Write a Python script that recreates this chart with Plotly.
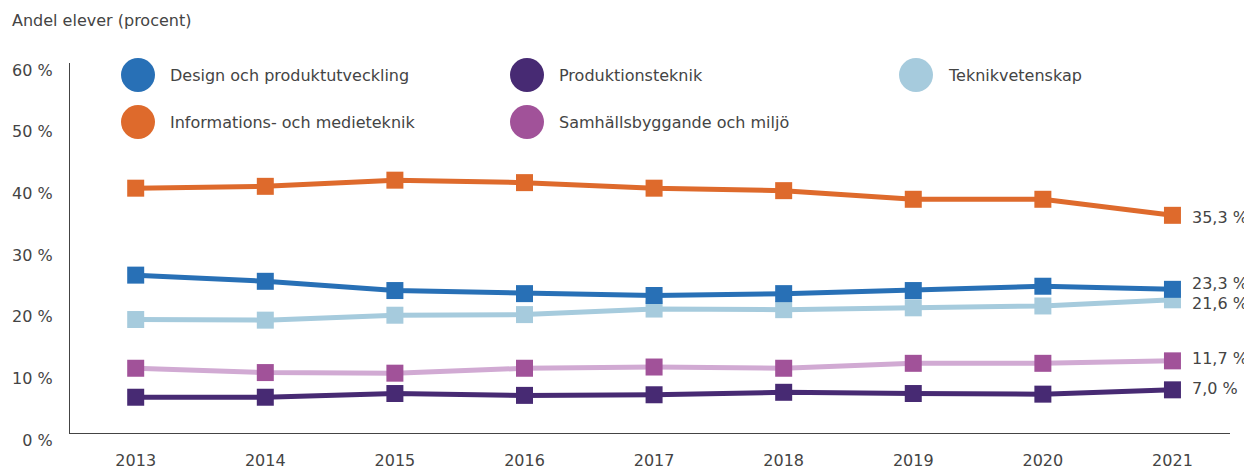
import plotly.graph_objects as go

years = [2013, 2014, 2015, 2016, 2017, 2018, 2019, 2020, 2021]

design = [25.6, 24.6, 23.1, 22.6, 22.3, 22.6, 23.1, 23.8, 23.3]
info = [39.7, 40.0, 41.0, 40.6, 39.7, 39.3, 37.9, 37.9, 35.3]
produktion = [5.8, 5.8, 6.4, 6.1, 6.2, 6.6, 6.4, 6.3, 7.0]
teknikvet = [18.4, 18.3, 19.1, 19.2, 20.1, 20.0, 20.3, 20.6, 21.6]
samhalle = [10.5, 9.8, 9.7, 10.5, 10.7, 10.5, 11.3, 11.3, 11.7]

y_ticks = [0, 10, 20, 30, 40, 50, 60]
y_ticktext = [f"{v} %" for v in y_ticks]

FONT = "'DejaVu Sans', 'Open Sans', sans-serif"
TXT = "#444444"

# page has an 8px body margin: work in screen pixels, convert to figure pixels
OFF = 8
W, H = 1252 - OFF, 469 - OFF
L, R, T, B = 70 - OFF, 1230 - OFF, 63 - OFF, 433 - OFF


def px_x(sx):
    return (sx - OFF - L) / (R - L)


def px_y(sy):
    return (B - (sy - OFF)) / (B - T)


# series: name, values, line colour, marker colour, label yshift
series = [
    ("Teknikvetenskap", teknikvet, "#a6cbdd", "#a6cbdd", -4),
    ("Design och produktutveckling", design, "#2870b6", "#2870b6", 6),
    ("Informations- och medieteknik", info, "#de6a2c", "#de6a2c", -2),
    ("Samhällsbyggande och miljö", samhalle, "#d1aad3", "#a15299", 2),
    ("Produktionsteknik", produktion, "#472a73", "#472a73", 1),
]

fig = go.Figure()
annotations = []
for name, vals, lc, mc, ys in series:
    fig.add_trace(go.Scatter(
        x=years, y=vals, mode="lines+markers", name=name,
        line=dict(color=lc, width=5),
        marker=dict(symbol="square", size=17, color=mc),
        showlegend=False, hoverinfo="x+y+name",
    ))
    v = vals[-1]
    annotations.append(dict(
        x=years[-1], y=v, xref="x", yref="y",
        text=f"{v:.1f}".replace(".", ",") + " %",
        showarrow=False, xanchor="left", yanchor="middle",
        xshift=18, yshift=ys,
        font=dict(family=FONT, size=16, color=TXT),
    ))

# legend (manual, large circles), positions in screen pixels
legend_items = [
    ("Design och produktutveckling", "#2870b6", 138, 75),
    ("Informations- och medieteknik", "#de6a2c", 138, 122),
    ("Produktionsteknik", "#472a73", 527, 75),
    ("Samhällsbyggande och miljö", "#a15299", 527, 122),
    ("Teknikvetenskap", "#a6cbdd", 916, 75),
]
shapes = []
for label, col, cx, cy in legend_items:
    shapes.append(dict(
        type="circle", xref="paper", yref="paper",
        xsizemode="pixel", ysizemode="pixel",
        xanchor=px_x(cx), yanchor=px_y(cy),
        x0=-17, x1=17, y0=-17, y1=17,
        fillcolor=col, line=dict(width=0),
    ))
    annotations.append(dict(
        x=px_x(cx + 30), y=px_y(cy), xref="paper", yref="paper",
        text=label, showarrow=False, xanchor="left", yanchor="middle",
        font=dict(family=FONT, size=16, color=TXT),
    ))

annotations.append(dict(
    x=px_x(10), y=px_y(20), xref="paper", yref="paper",
    text="Andel elever (procent)", showarrow=False,
    xanchor="left", yanchor="middle",
    font=dict(family=FONT, size=16, color=TXT),
))

fig.update_layout(
    width=W, height=H,
    margin=dict(l=L, r=W - R, t=T, b=H - B, autoexpand=False),
    plot_bgcolor="white", paper_bgcolor="white",
    font=dict(family=FONT, size=16, color=TXT),
    xaxis=dict(
        range=[years[0] - 0.507, years[-1] + 0.444],
        tickvals=years, ticktext=[str(y) for y in years],
        showgrid=False, zeroline=False, showline=True,
        linecolor="#444", linewidth=1.3, ticks="",
        ticklabelstandoff=13, automargin=False,
        tickfont=dict(family=FONT, size=16, color=TXT),
    ),
    yaxis=dict(
        range=[0, 60], tickvals=y_ticks, ticktext=y_ticktext,
        showgrid=False, zeroline=False, showline=True,
        linecolor="#444", linewidth=1.3, ticks="",
        ticklabelstandoff=13, ticklabelshift=7, automargin=False,
        tickfont=dict(family=FONT, size=16, color=TXT),
    ),
    shapes=shapes,
    annotations=annotations,
)

fig.write_html("out.html")
